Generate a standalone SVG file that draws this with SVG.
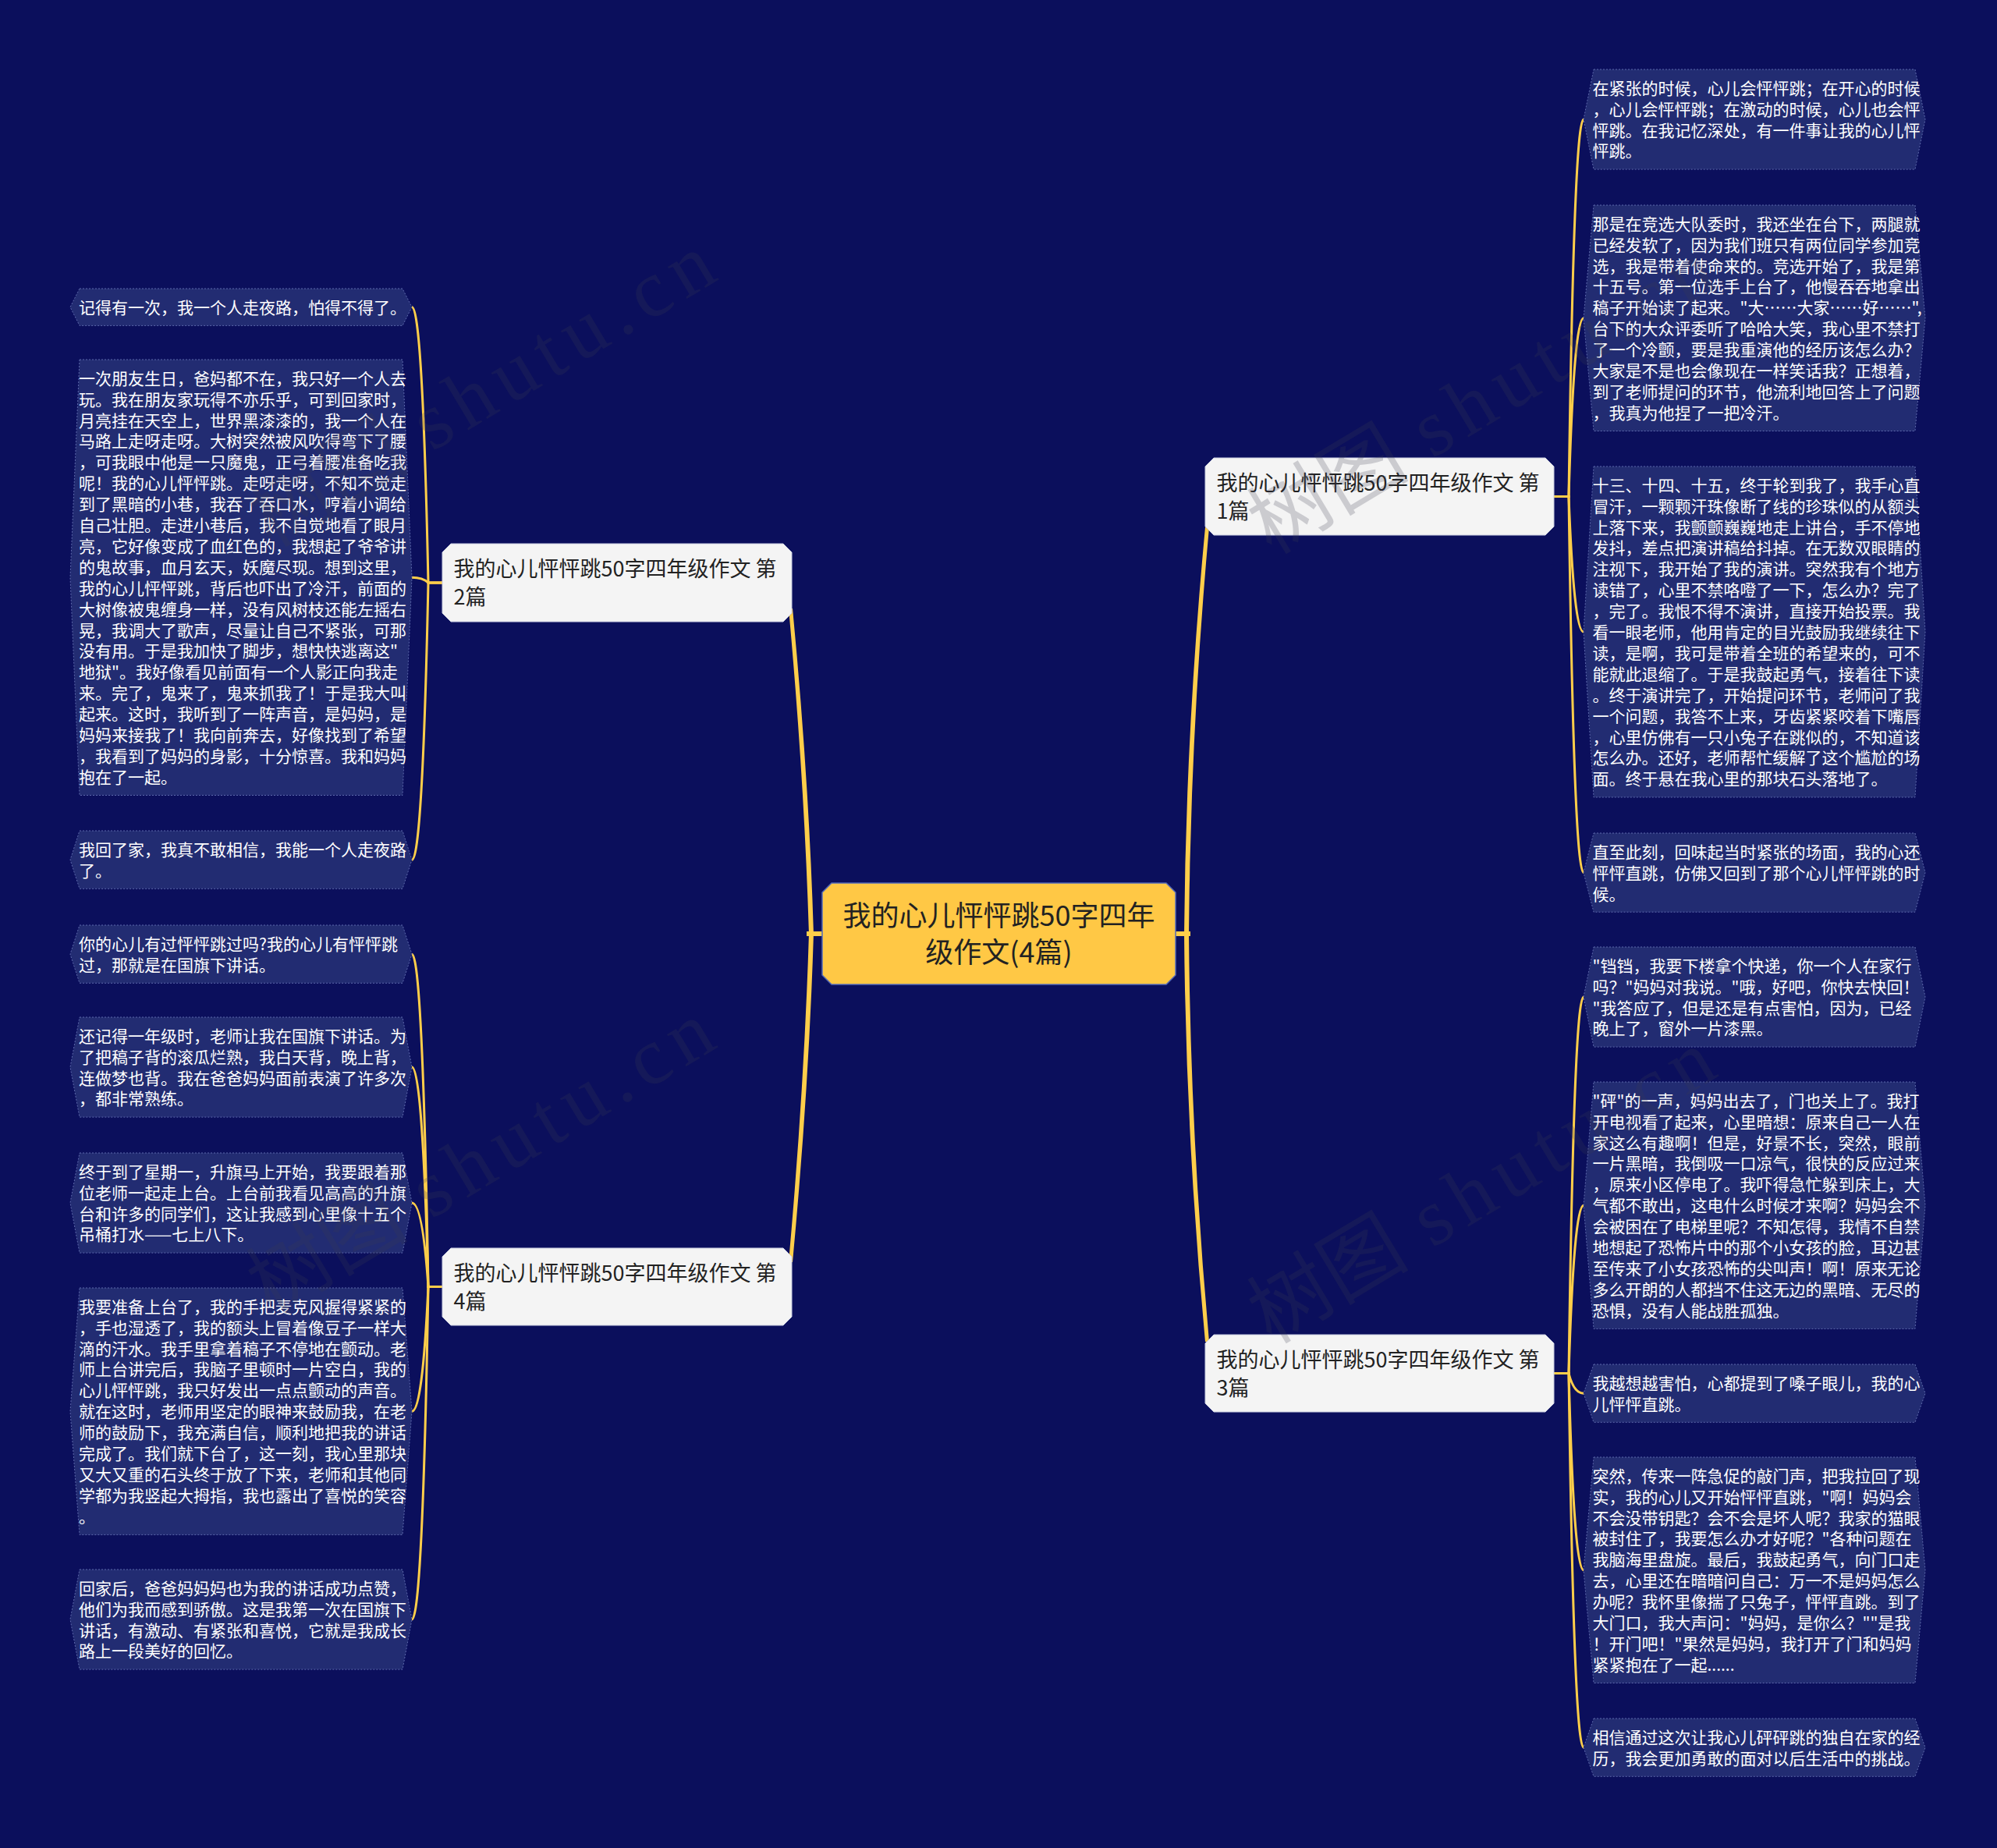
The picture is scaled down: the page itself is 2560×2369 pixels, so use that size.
<svg xmlns="http://www.w3.org/2000/svg" width="2560" height="2369" viewBox="0 0 2560 2369">
<style>
.bg{fill:#0B0F5C}
.leaf{fill:#222C72;stroke:#5D68AC;stroke-width:1;stroke-dasharray:2 2}
.lt{font-family:'Noto Sans CJK SC','Noto Sans',sans-serif;font-size:21px;fill:#FFFFFF}
.br{fill:#F4F4F4;stroke:#C9CDE0;stroke-width:1}
.bt{font-family:'Noto Sans CJK SC','Noto Sans',sans-serif;font-size:27px;fill:#222222}
.cn{fill:#FFC845;stroke:#5469B8;stroke-width:1.5}
.ct{font-family:'Noto Sans CJK SC','Noto Sans',sans-serif;font-size:36px;fill:#222222;text-anchor:middle}
.lk{fill:none;stroke:#FFCE4A;stroke-width:3}
.mk{fill:#FFCE4A}
.wm{font-family:'Liberation Serif','Noto Sans CJK SC',serif;font-size:104px;fill:#3C3C50;opacity:0.22}
</style>
<rect class="bg" x="0" y="0" width="2560" height="2369"/>

<g id="connectors">
  <rect class="mk" x="1034" y="1194" width="22" height="6"/>
  <rect class="mk" x="1505" y="1194" width="21" height="6"/>
  <path class="mk" d="M 1037,1198 Q 1031,1000 1011,780 L 1016,780 Q 1037,1000 1043,1198 Z"/>
  <path class="mk" d="M 1037,1196 Q 1031,1394 1011,1618 L 1016,1618 Q 1037,1394 1043,1196 Z"/>
  <path class="mk" d="M 1518,1198 Q 1520,940 1545,676 L 1550,676 Q 1526,940 1524,1198 Z"/>
  <path class="mk" d="M 1518,1196 Q 1520,1455 1545,1720 L 1550,1720 Q 1526,1455 1524,1196 Z"/>

  <path class="lk" d="M 567,747 L 549,747 Q 541.6,393.7 528,393.7"/>
  <path class="lk" d="M 567,747 L 549,747 Q 541.6,740.3 528,740.3"/>
  <path class="lk" d="M 567,747 L 549,747 Q 541.6,1102.2 528,1102.2"/>

  <path class="lk" d="M 567,1649.5 L 549,1649.5 Q 541.6,1223.2 528,1223.2"/>
  <path class="lk" d="M 567,1649.5 L 549,1649.5 Q 541.6,1368 528,1368"/>
  <path class="lk" d="M 567,1649.5 L 549,1649.5 Q 541.6,1542 528,1542"/>
  <path class="lk" d="M 567,1649.5 L 549,1649.5 Q 541.6,1809.2 528,1809.2"/>
  <path class="lk" d="M 567,1649.5 L 549,1649.5 Q 541.6,2076 528,2076"/>

  <path class="lk" d="M 1992,636.5 L 2011,636.5 Q 2017.6,153 2030,153"/>
  <path class="lk" d="M 1992,636.5 L 2011,636.5 Q 2017.6,407.8 2030,407.8"/>
  <path class="lk" d="M 1992,636.5 L 2011,636.5 Q 2017.6,810 2030,810"/>
  <path class="lk" d="M 1992,636.5 L 2011,636.5 Q 2017.6,1118.6 2030,1118.6"/>

  <path class="lk" d="M 1992,1760.5 L 2011,1760.5 Q 2017.6,1278 2030,1278"/>
  <path class="lk" d="M 1992,1760.5 L 2011,1760.5 Q 2017.6,1545.2 2030,1545.2"/>
  <path class="lk" d="M 1992,1760.5 L 2011,1760.5 Q 2017.6,1786.2 2030,1786.2"/>
  <path class="lk" d="M 1992,1760.5 L 2011,1760.5 Q 2017.6,2012.8 2030,2012.8"/>
  <path class="lk" d="M 1992,1760.5 L 2011,1760.5 Q 2017.6,2240.2 2030,2240.2"/>
</g>

<g id="center">
  <polygon class="cn" points="1066,1132 1495,1132 1507,1144 1507,1250 1495,1262 1066,1262 1054,1250 1054,1144"/>
  <text class="ct" x="1280.5" y="1187.2">我的心儿怦怦跳50字四年</text>
  <text class="ct" x="1280.5" y="1234.2">级作文(4篇)</text>
</g>

<g id="branch1">
  <polygon class="br" points="1556,587 1981,587 1992,598 1992,675 1981,686 1556,686 1545,675 1545,598"/>
  <text class="bt" x="1559.5" y="628.8">我的心儿怦怦跳50字四年级作文 第</text>
  <text class="bt" x="1559.5" y="664.8">1篇</text>
</g>
<g id="branch2">
  <polygon class="br" points="578,697 1004,697 1015,708 1015,786 1004,797 578,797 567,786 567,708"/>
  <text class="bt" x="581.5" y="739.3">我的心儿怦怦跳50字四年级作文 第</text>
  <text class="bt" x="581.5" y="775.3">2篇</text>
</g>
<g id="branch3">
  <polygon class="br" points="1556,1711 1981,1711 1992,1722 1992,1799 1981,1810 1556,1810 1545,1799 1545,1722"/>
  <text class="bt" x="1559.5" y="1752.8">我的心儿怦怦跳50字四年级作文 第</text>
  <text class="bt" x="1559.5" y="1788.8">3篇</text>
</g>
<g id="branch4">
  <polygon class="br" points="578,1600 1004,1600 1015,1611 1015,1688 1004,1699 578,1699 567,1688 567,1611"/>
  <text class="bt" x="581.5" y="1641.8">我的心儿怦怦跳50字四年级作文 第</text>
  <text class="bt" x="581.5" y="1677.8">4篇</text>
</g>

<g id="leaf-2a">
  <polygon class="leaf" points="102,370 516,370 528,393.7 516,417.4 102,417.4 90,393.7"/>
  <text class="lt" y="401.7"><tspan x="101">记得有一次，我一个人走夜路，怕得不得了。</tspan></text>
</g>
<g id="leaf-2b">
  <polygon class="leaf" points="102,461 516,461 528,740.3 516,1019.5 102,1019.5 90,740.3"/>
  <text class="lt" y="492.7">
    <tspan x="101" dy="0">一次朋友生日，爸妈都不在，我只好一个人去</tspan>
    <tspan x="101" dy="26.9">玩。我在朋友家玩得不亦乐乎，可到回家时，</tspan>
    <tspan x="101" dy="26.9">月亮挂在天空上，世界黑漆漆的，我一个人在</tspan>
    <tspan x="101" dy="26.9">马路上走呀走呀。大树突然被风吹得弯下了腰</tspan>
    <tspan x="101" dy="26.9">，可我眼中他是一只魔鬼，正弓着腰准备吃我</tspan>
    <tspan x="101" dy="26.9">呢！我的心儿怦怦跳。走呀走呀，不知不觉走</tspan>
    <tspan x="101" dy="26.9">到了黑暗的小巷，我吞了吞口水，哼着小调给</tspan>
    <tspan x="101" dy="26.9">自己壮胆。走进小巷后，我不自觉地看了眼月</tspan>
    <tspan x="101" dy="26.9">亮，它好像变成了血红色的，我想起了爷爷讲</tspan>
    <tspan x="101" dy="26.9">的鬼故事，血月玄天，妖魔尽现。想到这里，</tspan>
    <tspan x="101" dy="26.9">我的心儿怦怦跳，背后也吓出了冷汗，前面的</tspan>
    <tspan x="101" dy="26.9">大树像被鬼缠身一样，没有风树枝还能左摇右</tspan>
    <tspan x="101" dy="26.9">晃，我调大了歌声，尽量让自己不紧张，可那</tspan>
    <tspan x="101" dy="26.9">没有用。于是我加快了脚步，想快快逃离这"</tspan>
    <tspan x="101" dy="26.9">地狱"。我好像看见前面有一个人影正向我走</tspan>
    <tspan x="101" dy="26.9">来。完了，鬼来了，鬼来抓我了！于是我大叫</tspan>
    <tspan x="101" dy="26.9">起来。这时，我听到了一阵声音，是妈妈，是</tspan>
    <tspan x="101" dy="26.9">妈妈来接我了！我向前奔去，好像找到了希望</tspan>
    <tspan x="101" dy="26.9">，我看到了妈妈的身影，十分惊喜。我和妈妈</tspan>
    <tspan x="101" dy="26.9">抱在了一起。</tspan>
  </text>
</g>
<g id="leaf-2c">
  <polygon class="leaf" points="102,1065 516,1065 528,1102.2 516,1139.3 102,1139.3 90,1102.2"/>
  <text class="lt" y="1096.7">
    <tspan x="101" dy="0">我回了家，我真不敢相信，我能一个人走夜路</tspan>
    <tspan x="101" dy="26.9">了。</tspan>
  </text>
</g>
<g id="leaf-4a">
  <polygon class="leaf" points="102,1186 516,1186 528,1223.2 516,1260.3 102,1260.3 90,1223.2"/>
  <text class="lt" y="1217.7">
    <tspan x="101" dy="0">你的心儿有过怦怦跳过吗?我的心儿有怦怦跳</tspan>
    <tspan x="101" dy="26.9">过，那就是在国旗下讲话。</tspan>
  </text>
</g>
<g id="leaf-4b">
  <polygon class="leaf" points="102,1304 516,1304 528,1368 516,1432.1 102,1432.1 90,1368"/>
  <text class="lt" y="1335.7">
    <tspan x="101" dy="0">还记得一年级时，老师让我在国旗下讲话。为</tspan>
    <tspan x="101" dy="26.9">了把稿子背的滚瓜烂熟，我白天背，晚上背，</tspan>
    <tspan x="101" dy="26.9">连做梦也背。我在爸爸妈妈面前表演了许多次</tspan>
    <tspan x="101" dy="26.9">，都非常熟练。</tspan>
  </text>
</g>
<g id="leaf-4c">
  <polygon class="leaf" points="102,1478 516,1478 528,1542 516,1606.1 102,1606.1 90,1542"/>
  <text class="lt" y="1509.7">
    <tspan x="101" dy="0">终于到了星期一，升旗马上开始，我要跟着那</tspan>
    <tspan x="101" dy="26.9">位老师一起走上台。上台前我看见高高的升旗</tspan>
    <tspan x="101" dy="26.9">台和许多的同学们，这让我感到心里像十五个</tspan>
    <tspan x="101" dy="26.9">吊桶打水——七上八下。</tspan>
  </text>
</g>
<g id="leaf-4d">
  <polygon class="leaf" points="102,1651 516,1651 528,1809.2 516,1967.4 102,1967.4 90,1809.2"/>
  <text class="lt" y="1682.7">
    <tspan x="101" dy="0">我要准备上台了，我的手把麦克风握得紧紧的</tspan>
    <tspan x="101" dy="26.9">，手也湿透了，我的额头上冒着像豆子一样大</tspan>
    <tspan x="101" dy="26.9">滴的汗水。我手里拿着稿子不停地在颤动。老</tspan>
    <tspan x="101" dy="26.9">师上台讲完后，我脑子里顿时一片空白，我的</tspan>
    <tspan x="101" dy="26.9">心儿怦怦跳，我只好发出一点点颤动的声音。</tspan>
    <tspan x="101" dy="26.9">就在这时，老师用坚定的眼神来鼓励我，在老</tspan>
    <tspan x="101" dy="26.9">师的鼓励下，我充满自信，顺利地把我的讲话</tspan>
    <tspan x="101" dy="26.9">完成了。我们就下台了，这一刻，我心里那块</tspan>
    <tspan x="101" dy="26.9">又大又重的石头终于放了下来，老师和其他同</tspan>
    <tspan x="101" dy="26.9">学都为我竖起大拇指，我也露出了喜悦的笑容</tspan>
    <tspan x="101" dy="26.9">。</tspan>
  </text>
</g>
<g id="leaf-4e">
  <polygon class="leaf" points="102,2012 516,2012 528,2076 516,2140.1 102,2140.1 90,2076"/>
  <text class="lt" y="2043.7">
    <tspan x="101" dy="0">回家后，爸爸妈妈妈也为我的讲话成功点赞，</tspan>
    <tspan x="101" dy="26.9">他们为我而感到骄傲。这是我第一次在国旗下</tspan>
    <tspan x="101" dy="26.9">讲话，有激动、有紧张和喜悦，它就是我成长</tspan>
    <tspan x="101" dy="26.9">路上一段美好的回忆。</tspan>
  </text>
</g>

<g id="leaf-1a">
  <polygon class="leaf" points="2043,89 2455,89 2468,153 2455,217.1 2043,217.1 2030,153"/>
  <text class="lt" y="120.7">
    <tspan x="2041.5" dy="0">在紧张的时候，心儿会怦怦跳；在开心的时候</tspan>
    <tspan x="2041.5" dy="26.9">，心儿会怦怦跳；在激动的时候，心儿也会怦</tspan>
    <tspan x="2041.5" dy="26.9">怦跳。在我记忆深处，有一件事让我的心儿怦</tspan>
    <tspan x="2041.5" dy="26.9">怦跳。</tspan>
  </text>
</g>
<g id="leaf-1b">
  <polygon class="leaf" points="2043,263 2455,263 2468,407.8 2455,552.5 2043,552.5 2030,407.8"/>
  <text class="lt" y="294.7">
    <tspan x="2041.5" dy="0">那是在竞选大队委时，我还坐在台下，两腿就</tspan>
    <tspan x="2041.5" dy="26.9">已经发软了，因为我们班只有两位同学参加竞</tspan>
    <tspan x="2041.5" dy="26.9">选，我是带着使命来的。竞选开始了，我是第</tspan>
    <tspan x="2041.5" dy="26.9">十五号。第一位选手上台了，他慢吞吞地拿出</tspan>
    <tspan x="2041.5" dy="26.9">稿子开始读了起来。"大……大家……好……",</tspan>
    <tspan x="2041.5" dy="26.9">台下的大众评委听了哈哈大笑，我心里不禁打</tspan>
    <tspan x="2041.5" dy="26.9">了一个冷颤，要是我重演他的经历该怎么办？</tspan>
    <tspan x="2041.5" dy="26.9">大家是不是也会像现在一样笑话我？正想着，</tspan>
    <tspan x="2041.5" dy="26.9">到了老师提问的环节，他流利地回答上了问题</tspan>
    <tspan x="2041.5" dy="26.9">，我真为他捏了一把冷汗。</tspan>
  </text>
</g>
<g id="leaf-1c">
  <polygon class="leaf" points="2043,598 2455,598 2468,810 2455,1022 2043,1022 2030,810"/>
  <text class="lt" y="629.7">
    <tspan x="2041.5" dy="0">十三、十四、十五，终于轮到我了，我手心直</tspan>
    <tspan x="2041.5" dy="26.9">冒汗，一颗颗汗珠像断了线的珍珠似的从额头</tspan>
    <tspan x="2041.5" dy="26.9">上落下来，我颤颤巍巍地走上讲台，手不停地</tspan>
    <tspan x="2041.5" dy="26.9">发抖，差点把演讲稿给抖掉。在无数双眼睛的</tspan>
    <tspan x="2041.5" dy="26.9">注视下，我开始了我的演讲。突然我有个地方</tspan>
    <tspan x="2041.5" dy="26.9">读错了，心里不禁咯噔了一下，怎么办？完了</tspan>
    <tspan x="2041.5" dy="26.9">，完了。我恨不得不演讲，直接开始投票。我</tspan>
    <tspan x="2041.5" dy="26.9">看一眼老师，他用肯定的目光鼓励我继续往下</tspan>
    <tspan x="2041.5" dy="26.9">读，是啊，我可是带着全班的希望来的，可不</tspan>
    <tspan x="2041.5" dy="26.9">能就此退缩了。于是我鼓起勇气，接着往下读</tspan>
    <tspan x="2041.5" dy="26.9">。终于演讲完了，开始提问环节，老师问了我</tspan>
    <tspan x="2041.5" dy="26.9">一个问题，我答不上来，牙齿紧紧咬着下嘴唇</tspan>
    <tspan x="2041.5" dy="26.9">，心里仿佛有一只小兔子在跳似的，不知道该</tspan>
    <tspan x="2041.5" dy="26.9">怎么办。还好，老师帮忙缓解了这个尴尬的场</tspan>
    <tspan x="2041.5" dy="26.9">面。终于悬在我心里的那块石头落地了。</tspan>
  </text>
</g>
<g id="leaf-1d">
  <polygon class="leaf" points="2043,1068 2455,1068 2468,1118.6 2455,1169.2 2043,1169.2 2030,1118.6"/>
  <text class="lt" y="1099.7">
    <tspan x="2041.5" dy="0">直至此刻，回味起当时紧张的场面，我的心还</tspan>
    <tspan x="2041.5" dy="26.9">怦怦直跳，仿佛又回到了那个心儿怦怦跳的时</tspan>
    <tspan x="2041.5" dy="26.9">候。</tspan>
  </text>
</g>

<g id="leaf-3a">
  <polygon class="leaf" points="2043,1214 2455,1214 2468,1278 2455,1342.1 2043,1342.1 2030,1278"/>
  <text class="lt" y="1245.7">
    <tspan x="2041.5" dy="0">"铛铛，我要下楼拿个快递，你一个人在家行</tspan>
    <tspan x="2041.5" dy="26.9">吗？"妈妈对我说。"哦，好吧，你快去快回！</tspan>
    <tspan x="2041.5" dy="26.9">"我答应了，但是还是有点害怕，因为，已经</tspan>
    <tspan x="2041.5" dy="26.9">晚上了，窗外一片漆黑。</tspan>
  </text>
</g>
<g id="leaf-3b">
  <polygon class="leaf" points="2043,1387 2455,1387 2468,1545.2 2455,1703.4 2043,1703.4 2030,1545.2"/>
  <text class="lt" y="1418.7">
    <tspan x="2041.5" dy="0">"砰"的一声，妈妈出去了，门也关上了。我打</tspan>
    <tspan x="2041.5" dy="26.9">开电视看了起来，心里暗想：原来自己一人在</tspan>
    <tspan x="2041.5" dy="26.9">家这么有趣啊！但是，好景不长，突然，眼前</tspan>
    <tspan x="2041.5" dy="26.9">一片黑暗，我倒吸一口凉气，很快的反应过来</tspan>
    <tspan x="2041.5" dy="26.9">，原来小区停电了。我吓得急忙躲到床上，大</tspan>
    <tspan x="2041.5" dy="26.9">气都不敢出，这电什么时候才来啊？妈妈会不</tspan>
    <tspan x="2041.5" dy="26.9">会被困在了电梯里呢？不知怎得，我情不自禁</tspan>
    <tspan x="2041.5" dy="26.9">地想起了恐怖片中的那个小女孩的脸，耳边甚</tspan>
    <tspan x="2041.5" dy="26.9">至传来了小女孩恐怖的尖叫声！啊！原来无论</tspan>
    <tspan x="2041.5" dy="26.9">多么开朗的人都挡不住这无边的黑暗、无尽的</tspan>
    <tspan x="2041.5" dy="26.9">恐惧，没有人能战胜孤独。</tspan>
  </text>
</g>
<g id="leaf-3c">
  <polygon class="leaf" points="2043,1749 2455,1749 2468,1786.2 2455,1823.3 2043,1823.3 2030,1786.2"/>
  <text class="lt" y="1780.7">
    <tspan x="2041.5" dy="0">我越想越害怕，心都提到了嗓子眼儿，我的心</tspan>
    <tspan x="2041.5" dy="26.9">儿怦怦直跳。</tspan>
  </text>
</g>
<g id="leaf-3d">
  <polygon class="leaf" points="2043,1868 2455,1868 2468,2012.8 2455,2157.5 2043,2157.5 2030,2012.8"/>
  <text class="lt" y="1899.7">
    <tspan x="2041.5" dy="0">突然，传来一阵急促的敲门声，把我拉回了现</tspan>
    <tspan x="2041.5" dy="26.9">实，我的心儿又开始怦怦直跳，"啊！妈妈会</tspan>
    <tspan x="2041.5" dy="26.9">不会没带钥匙？会不会是坏人呢？我家的猫眼</tspan>
    <tspan x="2041.5" dy="26.9">被封住了，我要怎么办才好呢？"各种问题在</tspan>
    <tspan x="2041.5" dy="26.9">我脑海里盘旋。最后，我鼓起勇气，向门口走</tspan>
    <tspan x="2041.5" dy="26.9">去，心里还在暗暗问自己：万一不是妈妈怎么</tspan>
    <tspan x="2041.5" dy="26.9">办呢？我怀里像揣了只兔子，怦怦直跳。到了</tspan>
    <tspan x="2041.5" dy="26.9">大门口，我大声问："妈妈，是你么？""是我</tspan>
    <tspan x="2041.5" dy="26.9">！开门吧！"果然是妈妈，我打开了门和妈妈</tspan>
    <tspan x="2041.5" dy="26.9">紧紧抱在了一起......</tspan>
  </text>
</g>
<g id="leaf-3e">
  <polygon class="leaf" points="2043,2203 2455,2203 2468,2240.2 2455,2277.3 2043,2277.3 2030,2240.2"/>
  <text class="lt" y="2234.7">
    <tspan x="2041.5" dy="0">相信通过这次让我心儿砰砰跳的独自在家的经</tspan>
    <tspan x="2041.5" dy="26.9">历，我会更加勇敢的面对以后生活中的挑战。</tspan>
  </text>
</g>

<g id="watermarks">
  <g transform="translate(348,703) rotate(-31)"><text class="wm" x="0" y="0">树图</text><text class="wm" x="240" y="0" textLength="431" lengthAdjust="spacing">shutu.cn</text></g>
  <g transform="translate(1630,712) rotate(-31)"><text class="wm" x="0" y="0">树图</text><text class="wm" x="240" y="0" textLength="431" lengthAdjust="spacing">shutu.cn</text></g>
  <g transform="translate(347,1687) rotate(-31)"><text class="wm" x="0" y="0">树图</text><text class="wm" x="240" y="0" textLength="431" lengthAdjust="spacing">shutu.cn</text></g>
  <g transform="translate(1630,1724) rotate(-31)"><text class="wm" x="0" y="0">树图</text><text class="wm" x="240" y="0" textLength="431" lengthAdjust="spacing">shutu.cn</text></g>
</g>
</svg>
